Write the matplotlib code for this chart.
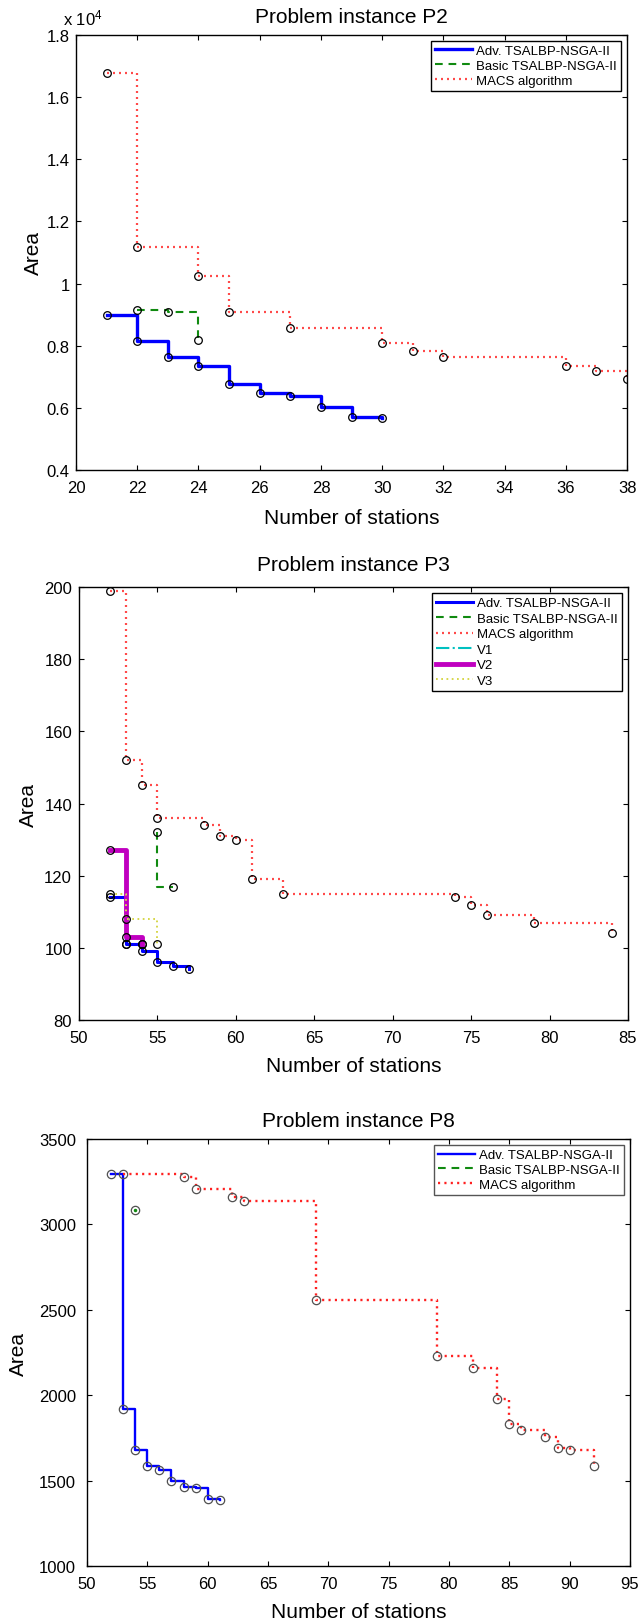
import matplotlib
matplotlib.use('Agg')
import matplotlib.pyplot as plt
from matplotlib.ticker import FuncFormatter, MultipleLocator

plt.rcParams['font.family'] = ['Liberation Sans', 'DejaVu Sans']
plt.rcParams['mathtext.default'] = 'regular'

# Problem instance P2
p2_adv_x = [21, 22, 23, 24, 25, 26, 27, 28, 29, 30]
p2_adv_y = [9000, 8150, 7620, 7360, 6780, 6480, 6380, 6040, 5720, 5680]
p2_basic_x = [22, 23, 24]
p2_basic_y = [9150, 9070, 8170]
p2_macs_x = [21, 22, 24, 25, 27, 30, 31, 32, 36, 37, 38]
p2_macs_y = [16780, 11170, 10240, 9090, 8580, 8080, 7830, 7640, 7350, 7180, 6930]

# Problem instance P3
p3_adv_x = [52, 53, 54, 55, 56, 57]
p3_adv_y = [114, 101, 99, 96, 95, 94]
p3_basic_x = [55, 56]
p3_basic_y = [132, 117]
p3_macs_x = [52, 53, 54, 55, 58, 59, 60, 61, 63, 74, 75, 76, 79, 84]
p3_macs_y = [199, 152, 145, 136, 134, 131, 130, 119, 115, 114, 112, 109, 107, 104]
p3_v1_x = [53, 54]
p3_v1_y = [101, 101]
p3_v2_x = [52, 53, 54]
p3_v2_y = [127, 103, 101]
p3_v3_x = [52, 53, 55]
p3_v3_y = [115, 108, 101]

# Problem instance P8
p8_adv_x = [52, 53, 54, 55, 56, 57, 58, 59, 60, 61]
p8_adv_y = [3298, 1920, 1682, 1585, 1565, 1495, 1463, 1457, 1390, 1388]
p8_basic_x = [54]
p8_basic_y = [3083]
p8_macs_x = [53, 58, 59, 62, 63, 69, 79, 82, 84, 85, 86, 88, 89, 90, 92]
p8_macs_y = [3298, 3280, 3210, 3159, 3136, 2557, 2227, 2162, 1978, 1831, 1795, 1758, 1690, 1678, 1585]

RED = '#ff4a4a'
dotted = (0, (0.9, 1.8))
dashed = (0, (3.7, 2.8))


def style_axes(ax, ticksize=12, ypad=4.5):
    ax.tick_params(direction='in', top=True, right=True, length=3.6, width=0.8,
                   labelsize=ticksize)
    ax.tick_params(axis='x', pad=7)
    ax.tick_params(axis='y', pad=ypad)
    for s in ax.spines.values():
        s.set_linewidth(1.0)


def circles(ax, x, y, color='k', ms=5.5):
    ax.plot(x, y, 'o', mfc='none', mec=color, ms=ms, mew=0.9, zorder=5)


def legend(ax, edge='k', spacing=0.2):
    leg = ax.legend(loc='upper right', fontsize=9.5, fancybox=False, edgecolor=edge,
                    framealpha=1, borderaxespad=0.45, borderpad=0.3,
                    labelspacing=spacing, handlelength=2.8, handletextpad=0.35)
    leg.get_frame().set_linewidth(1.0)


fig = plt.figure(figsize=(6.4, 16.24), dpi=100)

# ---- P2 ----
ax1 = fig.add_axes([0.1188, 0.7100, 0.861, 0.2679])
ax1.plot(p2_adv_x, p2_adv_y, color='#0000ff', lw=2.4, drawstyle='steps-post',
         label='Adv. TSALBP-NSGA-II')
ax1.plot(p2_basic_x, p2_basic_y, color='#108a10', lw=1.5, ls=dashed,
         drawstyle='steps-post', label='Basic TSALBP-NSGA-II')
ax1.plot(p2_macs_x, p2_macs_y, color=RED, lw=1.6, ls=dotted,
         drawstyle='steps-post', label='MACS algorithm')
for xs, ys in [(p2_adv_x, p2_adv_y), (p2_basic_x, p2_basic_y), (p2_macs_x, p2_macs_y)]:
    circles(ax1, xs, ys)
ax1.set_xlim(20, 38)
ax1.set_ylim(4000, 18000)
ax1.xaxis.set_major_locator(MultipleLocator(2))
ax1.yaxis.set_major_locator(MultipleLocator(2000))
ax1.yaxis.set_major_formatter(FuncFormatter(lambda v, p: f'{v/1e4:g}'))
ax1.text(0.012, 1.023, 'x 10$^4$', transform=ax1.transAxes, ha='center',
         va='baseline', fontsize=12)
style_axes(ax1)
ax1.set_title('Problem instance P2', fontsize=15, pad=9)
ax1.set_xlabel('Number of stations', fontsize=15, va='top')
ax1.xaxis.set_label_coords(0.5, -0.087)
ax1.set_ylabel('Area', fontsize=15)
ax1.yaxis.set_label_coords(-0.0595, 0.5)
legend(ax1)

# ---- P3 ----
ax2 = fig.add_axes([0.1234, 0.3713, 0.8578, 0.2666])
ax2.plot(p3_adv_x, p3_adv_y, color='#0000ff', lw=2.2, drawstyle='steps-post',
         label='Adv. TSALBP-NSGA-II')
ax2.plot(p3_basic_x, p3_basic_y, color='#108a10', lw=1.5, ls=dashed,
         drawstyle='steps-pre', label='Basic TSALBP-NSGA-II')
ax2.plot(p3_macs_x, p3_macs_y, color=RED, lw=1.6, ls=dotted,
         drawstyle='steps-post', label='MACS algorithm')
ax2.plot(p3_v1_x, p3_v1_y, color='#00c0c0', lw=1.5, ls='-.',
         drawstyle='steps-post', label='V1', zorder=1)
ax2.plot(p3_v2_x, p3_v2_y, color='#c000c0', lw=3.5, drawstyle='steps-post',
         label='V2')
ax2.plot(p3_v3_x, p3_v3_y, color='#d6d64a', lw=1.4, ls=dotted,
         drawstyle='steps-post', label='V3')
for xs, ys in [(p3_adv_x, p3_adv_y), (p3_basic_x, p3_basic_y), (p3_macs_x, p3_macs_y),
               (p3_v1_x, p3_v1_y), (p3_v2_x, p3_v2_y), (p3_v3_x, p3_v3_y)]:
    circles(ax2, xs, ys)
ax2.set_xlim(50, 85)
ax2.set_ylim(80, 200)
ax2.xaxis.set_major_locator(MultipleLocator(5))
ax2.yaxis.set_major_locator(MultipleLocator(20))
style_axes(ax2, ypad=5)
ax2.set_title('Problem instance P3', fontsize=15, pad=12)
ax2.set_xlabel('Number of stations', fontsize=15, va='top')
ax2.xaxis.set_label_coords(0.5, -0.0824)
ax2.set_ylabel('Area', fontsize=15)
ax2.yaxis.set_label_coords(-0.0749, 0.5)
legend(ax2, spacing=0.25)

# ---- P8 ----
ax3 = fig.add_axes([0.1359, 0.0351, 0.8484, 0.2629])
ax3.plot(p8_adv_x, p8_adv_y, color='#0000ff', lw=1.7, drawstyle='steps-post',
         label='Adv. TSALBP-NSGA-II')
ax3.plot(p8_basic_x, p8_basic_y, color='#108a10', lw=1.5, ls=dashed,
         drawstyle='steps-post', label='Basic TSALBP-NSGA-II')
ax3.plot(p8_basic_x, p8_basic_y, '.', color='#108a10', ms=3)
ax3.plot(p8_macs_x, p8_macs_y, color='#ff2020', lw=1.7, ls=dotted,
         drawstyle='steps-post', label='MACS algorithm')
for xs, ys in [(p8_adv_x, p8_adv_y), (p8_basic_x, p8_basic_y), (p8_macs_x, p8_macs_y)]:
    circles(ax3, xs, ys, color='#505050', ms=6)
ax3.set_xlim(50, 95)
ax3.set_ylim(1000, 3500)
ax3.xaxis.set_major_locator(MultipleLocator(5))
ax3.yaxis.set_major_locator(MultipleLocator(500))
style_axes(ax3, ypad=8)
ax3.set_title('Problem instance P8', fontsize=15, pad=9.5)
ax3.set_xlabel('Number of stations', fontsize=15, va='top')
ax3.xaxis.set_label_coords(0.5, -0.0843)
ax3.set_ylabel('Area', fontsize=15)
ax3.yaxis.set_label_coords(-0.1085, 0.5)
legend(ax3, edge='#555555')

fig.savefig('out.png', dpi=100)
